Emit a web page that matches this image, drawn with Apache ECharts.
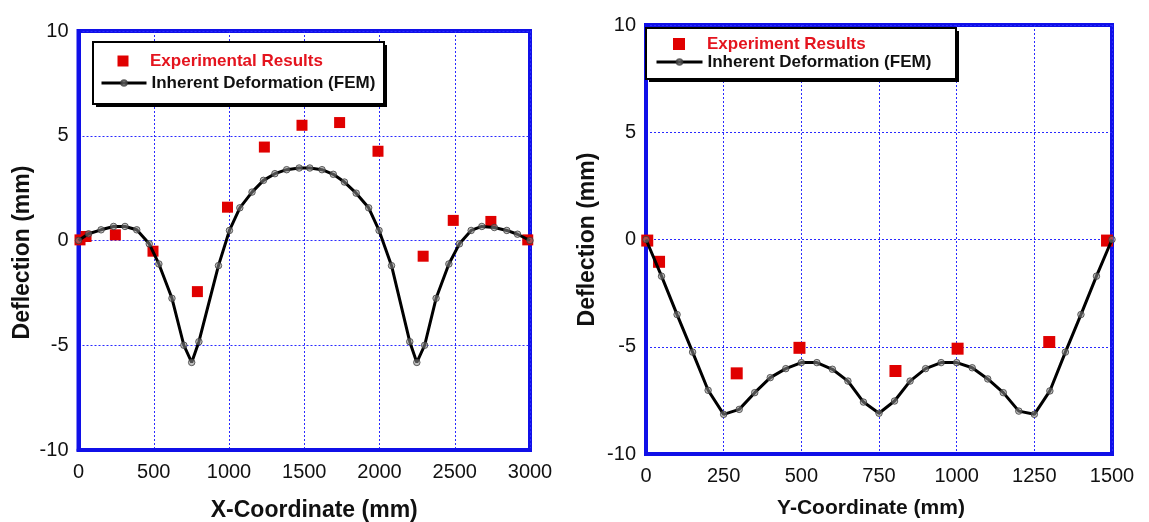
<!DOCTYPE html>
<html>
<head>
<meta charset="utf-8">
<script src="https://cdn.jsdelivr.net/npm/echarts@6/dist/echarts.min.js"></script>
<style>html,body{margin:0;padding:0;background:#fff}#c{width:1149px;height:522px}</style>
</head>
<body>
<div id="c"></div>
<script>
// Left chart: deflection along X
const femLeftX = [0,67,150,233,309,387,470,534,621,700,752,800,930,1003,1072,1153,1229,1305,1383,1466,1537,1618,1693,1767,1845,1928,1997,2080,2201,2248,2300,2376,2461,2531,2609,2680,2763,2846,2917,3000];
const femLeftY = [0,0.32,0.51,0.67,0.67,0.51,-0.16,-1.12,-2.76,-5.0,-5.82,-4.83,-1.2,0.48,1.56,2.31,2.87,3.19,3.38,3.46,3.46,3.38,3.16,2.79,2.26,1.56,0.48,-1.2,-4.83,-5.82,-5.0,-2.76,-1.12,-0.16,0.48,0.67,0.62,0.48,0.3,0];
const expLeftX = [10,50,245,495,790,990,1235,1485,1735,1990,2290,2490,2740,2985];
const expLeftY = [0.03,0.19,0.27,-0.51,-2.44,1.59,4.46,5.5,5.63,4.26,-0.75,0.96,0.91,0.03];
// Right chart: deflection along Y
const femRightX = [0,50,100,150,200,250,300,350,400,450,500,550,600,650,700,750,800,850,900,950,1000,1050,1100,1150,1200,1250,1300,1350,1400,1450,1500];
const femRightY = [0,-1.71,-3.5,-5.25,-7.03,-8.15,-7.92,-7.14,-6.44,-6.02,-5.74,-5.74,-6.05,-6.6,-7.58,-8.1,-7.53,-6.6,-6.02,-5.74,-5.74,-5.98,-6.5,-7.14,-8.0,-8.15,-7.06,-5.25,-3.5,-1.71,0];
const expRightX = [4,42,292,494,803,1003,1298,1484];
const expRightY = [-0.05,-1.04,-6.24,-5.05,-6.13,-5.09,-4.78,-0.05];
const yTicks = [-10,-5,0,5,10];
const leftNames = ['Experimental Results','Inherent Deformation (FEM)'];
const rightNames = ['Experiment Results','Inherent Deformation (FEM)'];

const zip = (xs, ys) => xs.map((x, i) => [x, ys[i]]);
const FONT = '"Liberation Sans", Arial, sans-serif';
const BLUE = '#1010e8';
const GRIDC = '#2a2aff';
const RED = '#e00000';
const squareIcon = 'path://M0,0L10,0L10,10L0,10Z';

function grid(g) {
  return Object.assign({show: true, borderColor: BLUE, borderWidth: 4, backgroundColor: '#fff', containLabel: false, outerBoundsMode: 'none'}, g);
}
const plainLabel = v => String(v);
function xAxis(idx, max, interval, name, nameGap, namePad, nameSize) {
  return {
    type: 'value', gridIndex: idx, min: 0, max: max, interval: interval,
    name: name, nameLocation: 'middle', nameGap: nameGap,
    nameTextStyle: {fontFamily: FONT, fontWeight: 'bold', fontSize: nameSize, color: '#111', padding: namePad},
    axisLine: {show: true, onZero: false, lineStyle: {color: BLUE, width: 4}},
    axisTick: {show: false},
    axisLabel: {fontFamily: FONT, fontSize: 20, color: '#111', margin: 12, formatter: plainLabel, showMinLabel: true, showMaxLabel: true},
    splitLine: {show: true, lineStyle: {color: GRIDC, width: 1, type: [2, 2]}}
  };
}
function yAxis(idx, name, nameGap, namePad) {
  return {
    type: 'value', gridIndex: idx, min: yTicks[0], max: yTicks[yTicks.length - 1], interval: 5,
    name: name, nameLocation: 'middle', nameGap: nameGap, nameRotate: 90,
    nameTextStyle: {fontFamily: FONT, fontWeight: 'bold', fontSize: 23, color: '#111', padding: namePad},
    axisLine: {show: true, onZero: false, lineStyle: {color: BLUE, width: 4}},
    axisTick: {show: false},
    axisLabel: {fontFamily: FONT, fontSize: 20, color: '#111', margin: 10, formatter: plainLabel, showMinLabel: true, showMaxLabel: true},
    splitLine: {show: true, lineStyle: {color: GRIDC, width: 1, type: [2, 2]}}
  };
}
const legendText = {fontFamily: FONT, fontWeight: 'bold', fontSize: 17, lineHeight: 17, color: '#111'};
function legendSquare(name, left, top, size, textPad) {
  return {
    orient: 'vertical', left: left, top: top, padding: 0, itemWidth: size, itemHeight: size,
    selectedMode: false, z: 6,
    textStyle: Object.assign({}, legendText, {color: '#e4141e', padding: [0, 0, 0, textPad]}),
    data: [{name: name, icon: squareIcon}]
  };
}
function legendLine(name, left, top, iconW) {
  return {
    orient: 'vertical', left: left, top: top, padding: 0, itemWidth: iconW, itemHeight: 7,
    selectedMode: false, z: 6,
    textStyle: legendText,
    lineStyle: {width: 3, color: '#000'},
    data: [{name: name}]
  };
}
function legendBox(x, y, w, h) {
  return [
    {type: 'rect', z: 5, silent: true, shape: {x: x + 3, y: y + 3, width: w, height: h}, style: {fill: '#000'}},
    {type: 'rect', z: 5, silent: true, shape: {x: x, y: y, width: w, height: h}, style: {fill: '#fff', stroke: '#000', lineWidth: 2}}
  ];
}
function expSeries(name, idx, data, size) {
  return {name: name, type: 'scatter', xAxisIndex: idx, yAxisIndex: idx, data: data,
    symbol: 'rect', symbolSize: size, itemStyle: {color: RED, opacity: 1}, z: 3};
}
function femSeries(name, idx, data) {
  return {name: name, type: 'line', xAxisIndex: idx, yAxisIndex: idx, data: data,
    symbol: 'circle', symbolSize: 6.5, showAllSymbol: true, smooth: false,
    lineStyle: {color: '#000', width: 3},
    itemStyle: {color: 'rgba(140,140,140,0.55)', borderColor: 'rgba(60,60,60,0.8)', borderWidth: 1},
    z: 4};
}

const chart = echarts.init(document.getElementById('c'), null, {renderer: 'canvas'});
chart.setOption({
  animation: false,
  backgroundColor: '#fff',
  grid: [
    grid({left: 78.5, right: 619, top: 31, bottom: 72}),
    grid({left: 646, right: 37, top: 25, bottom: 68})
  ],
  xAxis: [
    xAxis(0, 3000, 500, 'X-Coordinate (mm)', 49, [0, 0, 0, 20], 23),
    xAxis(1, 1500, 250, 'Y-Coordinate (mm)', 44, [0, 16, 0, 0], 21)
  ],
  yAxis: [
    yAxis(0, 'Deflection (mm)', 44, [0, 24, 0, 0]),
    yAxis(1, 'Deflection (mm)', 47, [0, 0, 0, 0])
  ],
  graphic: legendBox(93, 42, 291, 62).concat(legendBox(646, 28, 310, 51)),
  legend: [
    legendSquare(leftNames[0], 117.5, 52.5, 11, 16.5),
    legendLine(leftNames[1], 100, 74.5, 45),
    legendSquare(rightNames[0], 673, 35.5, 12, 17),
    legendLine(rightNames[1], 655, 53.5, 46)
  ],
  series: [
    expSeries(leftNames[0], 0, zip(expLeftX, expLeftY), 11),
    femSeries(leftNames[1], 0, zip(femLeftX, femLeftY)),
    expSeries(rightNames[0], 1, zip(expRightX, expRightY), 12),
    femSeries(rightNames[1], 1, zip(femRightX, femRightY))
  ]
});
</script>
</body>
</html>
